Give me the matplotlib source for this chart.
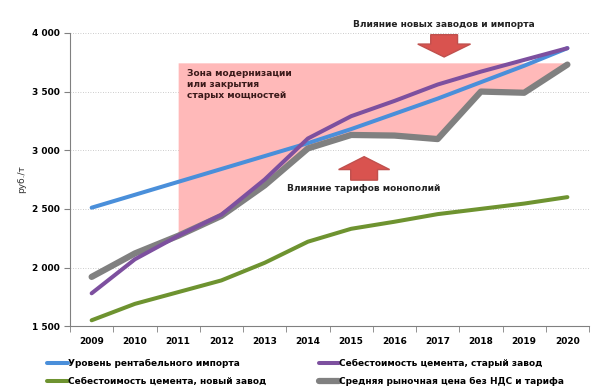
import matplotlib.pyplot as plt
from matplotlib.patches import FancyArrow
import numpy as np

years = [2009, 2010, 2011, 2012, 2013, 2014, 2015, 2016, 2017, 2018, 2019, 2020]
import_level = [2510, 2620, 2730, 2840, 2950, 3060, 3180, 3310, 3440, 3580, 3720, 3870]
old_plant = [1780, 2070, 2270, 2450, 2750, 3100, 3290, 3420, 3560, 3670, 3770, 3870]
new_plant = [1550, 1690, 1790, 1890, 2040, 2220, 2330, 2390, 2455, 2500, 2545, 2600]
market_price = [1920, 2120, 2270, 2440, 2700, 3015, 3130, 3125, 3095, 3500, 3490, 3730]
zone_top = 3745

labels = ["Уровень рентабельного импорта",
          "Себестоимость цемента, старый завод",
          "Себестоимость цемента, новый завод",
          "Средняя рыночная цена без НДС и тарифа"]

plt.rcParams['font.family'] = ['DejaVu Sans']

fig = plt.figure(figsize=(6, 3.92), dpi=100)
ax = fig.add_axes([0.1167, 0.168, 0.865, 0.748])

x = np.arange(len(years))

# pink zone above market price from 2011
ax.fill_between(x[2:], market_price[2:], zone_top, color="#FFB9B9", lw=0, zorder=1)

ax.plot(x, import_level, color="#4A8FDA", lw=2.9, zorder=3, solid_capstyle="round", label=labels[0])
ax.plot(x, old_plant, color="#7D509F", lw=2.9, zorder=4, solid_capstyle="round", label=labels[1])
ax.plot(x, new_plant, color="#6E9330", lw=2.9, zorder=3, solid_capstyle="round", label=labels[2])
ax.plot(x, market_price, color="#808080", lw=4.5, zorder=3, solid_capstyle="round", label=labels[3])

# arrows
ax.add_patch(FancyArrow(8.15, 3985, 0, -190, width=0.62, head_width=1.22, head_length=110,
                        length_includes_head=True, color="#D9534F", ec="#C0504D", zorder=5))
ax.add_patch(FancyArrow(6.3, 2745, 0, 200, width=0.62, head_width=1.18, head_length=110,
                        length_includes_head=True, color="#D9534F", ec="#C0504D", zorder=5))

ax.text(8.15, 4068, "Влияние новых заводов и импорта", ha="center", va="center",
        fontsize=6.5, fontweight="bold", color="#222222", clip_on=False)
ax.text(6.3, 2675, "Влияние тарифов монополий", ha="center", va="center",
        fontsize=6.5, fontweight="bold", color="#222222")
ax.text(2.2, 3690, "Зона модернизации\nили закрытия\nстарых мощностей", ha="left", va="top",
        fontsize=6.5, fontweight="bold", color="#3a1a1a", linespacing=1.25, zorder=6)

ax.set_xlim(-0.5, len(years) - 0.5)
ax.set_ylim(1500, 4000)
ax.set_yticks([1500, 2000, 2500, 3000, 3500, 4000])
ax.set_yticklabels(["1 500", "2 000", "2 500", "3 000", "3 500", "4 000"])
ax.set_xticks(x)
ax.set_xticklabels([str(y) for y in years])
ax.set_xticks(np.arange(-0.5, len(years)), minor=True)
ax.tick_params(axis="x", which="major", length=0, pad=8, labelsize=6.5)
ax.tick_params(axis="x", which="minor", length=4, color="#808080")
ax.tick_params(axis="y", length=4, color="#808080", labelsize=6.5)
for t in ax.get_xticklabels() + ax.get_yticklabels():
    t.set_fontweight("bold")

ax.grid(axis="y", linestyle=(0, (1, 2)), color="#BBBBBB", lw=0.6)
ax.set_axisbelow(True)
for s in ["top", "right"]:
    ax.spines[s].set_visible(False)
ax.spines["left"].set_color("#808080")
ax.spines["bottom"].set_color("#808080")

ax.set_ylabel("руб./т", fontsize=6.5, color="#333333", labelpad=4)

h, l = ax.get_legend_handles_labels()
order = [0, 2, 1, 3]
leg = fig.legend([h[i] for i in order], [l[i] for i in order], ncol=2,
                 loc="lower left", bbox_to_anchor=(0.065, -0.005), frameon=False,
                 fontsize=6.5, handlelength=2.3, handletextpad=0.0,
                 columnspacing=5.8, labelspacing=1.0)
for t in leg.get_texts():
    t.set_fontweight("bold")

fig.savefig("out.png", dpi=100)
